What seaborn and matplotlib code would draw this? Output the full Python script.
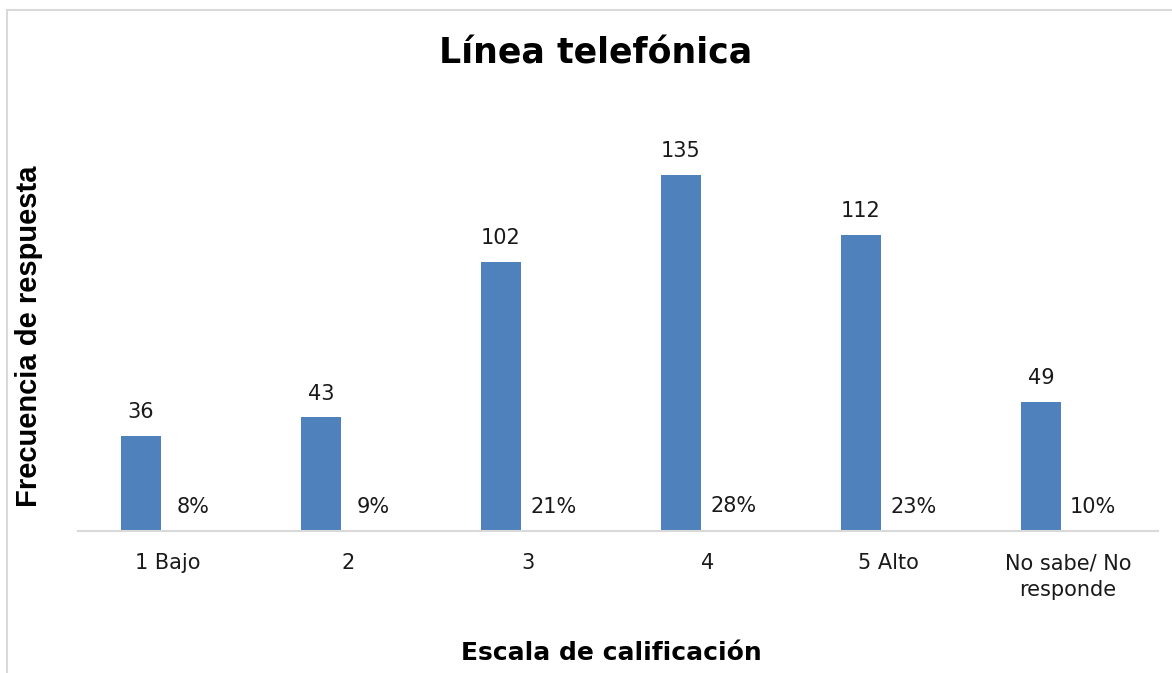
import pandas as pd
import seaborn as sns
import matplotlib.pyplot as plt
from matplotlib.patches import Rectangle

categories = ["1 Bajo", "2", "3", "4", "5 Alto", "No sabe/ No\nresponde"]
counts = [36, 43, 102, 135, 112, 49]
shares = [0.08, 0.09, 0.21, 0.28, 0.23, 0.10]

BLUE = "#4F81BD"
RED = "#E8A6A4"

sns.set_theme(style="white")
plt.rcParams["font.family"] = ["DejaVu Sans"]

df = pd.concat([
    pd.DataFrame({"cat": categories, "serie": "Frecuencia", "valor": counts}),
    pd.DataFrame({"cat": categories, "serie": "Porcentaje", "valor": shares}),
])

fig = plt.figure(figsize=(11.72, 6.73), dpi=100)
ax = fig.add_axes([78 / 1172, 1 - 531 / 673, 1080 / 1172, 400 / 673])

sns.barplot(data=df, x="cat", y="valor", hue="serie", order=categories,
            palette=[BLUE, RED], width=0.6, gap=0.25, legend=False, ax=ax,
            saturation=1, edgecolor="none")

ax.set_ylim(0, 151.5)
ax.set_xlim(-0.5, len(categories) - 0.5)
for s in ["top", "right", "left"]:
    ax.spines[s].set_visible(False)
ax.spines["bottom"].set_color("#D9D9D9")
ax.spines["bottom"].set_linewidth(1.5)
ax.set_yticks([])
ax.tick_params(axis="x", length=0, pad=16, labelsize=15, colors="#1a1a1a")
for lbl in ax.get_xticklabels():
    lbl.set_linespacing(1.45)
ax.set_xlabel("")
ax.set_ylabel("")

# etiquetas de datos
for i, (c, p) in enumerate(zip(counts, shares)):
    ax.annotate(str(c), (i - 0.15, c), xytext=(0, 10), textcoords="offset points",
                ha="center", va="bottom", fontsize=15, color="#1a1a1a")
    ax.annotate(f"{round(p * 100)}%", (i + 0.14, p), xytext=(0, 10),
                textcoords="offset points", ha="center", va="bottom",
                fontsize=15, color="#1a1a1a")

fig.text(596 / 1172, 1 - 53 / 673, "Línea telefónica", ha="center", va="center",
         fontsize=25, fontweight="bold", color="black")
fig.text(611 / 1172, 1 - 653 / 673, "Escala de calificación", ha="center",
         va="center", fontsize=18, fontweight="bold", color="black")
fig.text(29 / 1172, 1 - 336 / 673, "Frecuencia de respuesta", ha="center",
         va="center", rotation=90, fontsize=21, fontweight="bold",
         family=["Liberation Sans", "DejaVu Sans"], color="black")

fig.patches.append(Rectangle((7 / 1172, -0.01), 1.0, 1 - 10 / 673 + 0.01,
                             transform=fig.transFigure, fill=False,
                             edgecolor="#D9D9D9", linewidth=1.5))

fig.savefig("out.png", dpi=100)
